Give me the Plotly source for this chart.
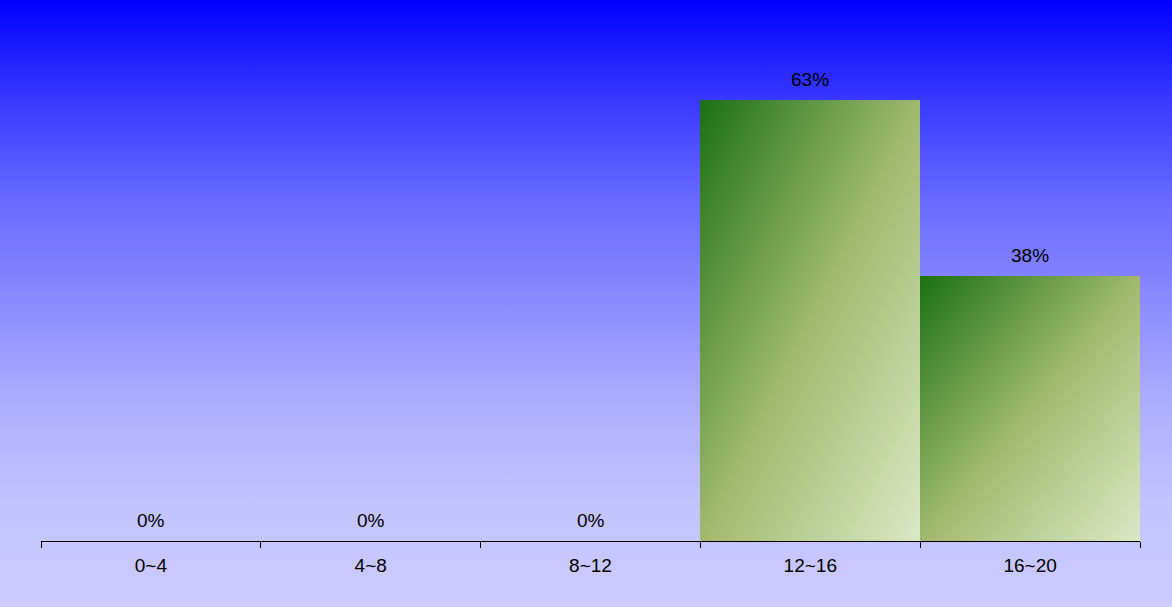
import plotly.graph_objects as go

# 分组区间与占比
categories = ["0~4", "4~8", "8~12", "12~16", "16~20"]
shares = [0, 0, 0, 62.5, 37.5]
share_labels = ["0%", "0%", "0%", "63%", "38%"]

FONT = "Liberation Sans, Arial, sans-serif"

fig = go.Figure(
    go.Bar(
        x=categories,
        y=shares,
        marker=dict(color="#a0b96e", line=dict(width=0)),
        hoverinfo="skip",
    )
)

# 数值标签
for cat, val, lab in zip(categories, shares, share_labels):
    fig.add_annotation(
        x=cat, y=val, text=lab,
        showarrow=False, yanchor="bottom", yshift=8,
        font=dict(family=FONT, size=19, color="#000000"),
    )

fig.update_layout(
    width=1172,
    height=607,
    margin=dict(l=41, r=32, t=0, b=66),
    paper_bgcolor="rgba(0,0,0,0)",
    plot_bgcolor="rgba(0,0,0,0)",
    bargap=0,
    showlegend=False,
    font=dict(family=FONT, size=19, color="#000000"),
)
fig.update_xaxes(
    showline=True,
    linecolor="#000000",
    linewidth=1,
    ticks="outside",
    tickson="boundaries",
    ticklen=6,
    tickcolor="#000000",
    ticklabelstandoff=7,
    showgrid=False,
    tickfont=dict(family=FONT, size=19, color="#000000"),
)
fig.update_yaxes(
    range=[0, 76.67],
    visible=False,
    showgrid=False,
    zeroline=False,
)

# 渐变背景和柱子渐变（plotly 本身不支持，用 css / svg defs 补上）
gradient_js = """
document.body.style.margin = '0';
var bgCss = 'linear-gradient(to bottom, #0000ff 0%, #3838ff 16.5%, #6a6aff 33%, ' +
            '#8080ff 44.5%, #adadff 66%, #c2c2ff 82.4%, #ccccff 100%)';
document.body.style.background = '#ccccff';
var gd = document.getElementsByClassName('plotly-graph-div')[0];
gd.style.background = bgCss;
function applyGradients() {
    var svg = gd.querySelector('svg.main-svg');
    if (!svg) return;
    var ns = 'http://www.w3.org/2000/svg';
    if (!document.getElementById('barGrad')) {
        var defs = document.createElementNS(ns, 'defs');
        defs.innerHTML =
            '<linearGradient id="barGrad" x1="0" y1="0" x2="1" y2="1">' +
            '<stop offset="0" stop-color="#1b7014"/>' +
            '<stop offset="0.5" stop-color="#a0b96e"/>' +
            '<stop offset="1" stop-color="#dbe8c6"/>' +
            '</linearGradient>';
        svg.insertBefore(defs, svg.firstChild);
    }
    gd.querySelectorAll('g.trace.bars g.point path').forEach(function (p) {
        p.style.fill = 'url(#barGrad)';
    });
}
applyGradients();
gd.on('plotly_afterplot', applyGradients);
"""

fig.write_html("out.html", post_script=gradient_js,
               config={"displayModeBar": False})
